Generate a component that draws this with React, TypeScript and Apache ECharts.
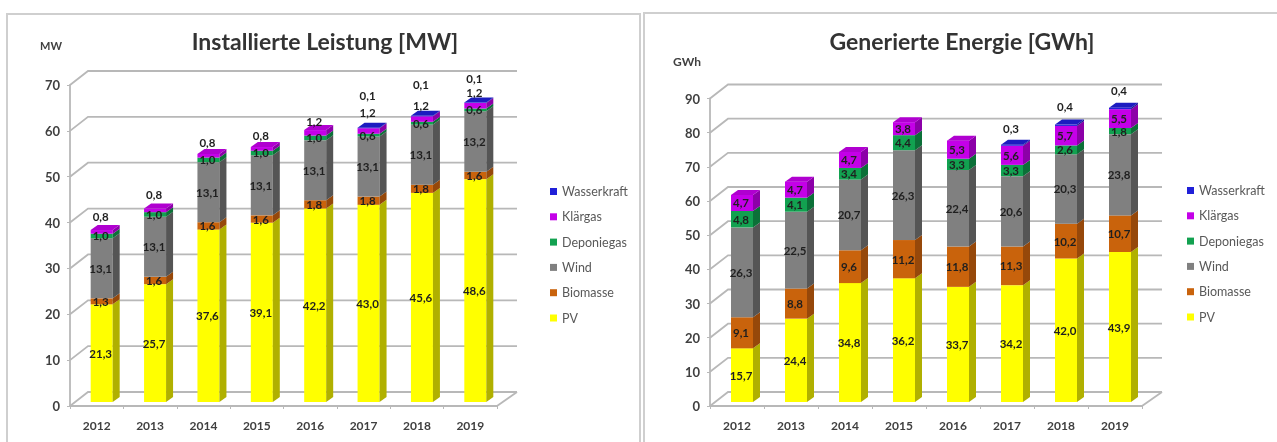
import React, { useEffect, useRef } from "react";
import * as echarts from "echarts";

const years = ["2012", "2013", "2014", "2015", "2016", "2017", "2018", "2019"];
const seriesNames = ["PV", "Biomasse", "Wind", "Deponiegas", "Klärgas", "Wasserkraft"];
const legendOrder = ["Wasserkraft", "Klärgas", "Deponiegas", "Wind", "Biomasse", "PV"];

const mwPV = [21.3, 25.7, 37.6, 39.1, 42.2, 43.0, 45.6, 48.6];
const mwBiomasse = [1.3, 1.6, 1.6, 1.6, 1.8, 1.8, 1.8, 1.6];
const mwWind = [13.1, 13.1, 13.1, 13.1, 13.1, 13.1, 13.1, 13.2];
const mwDeponiegas = [1.0, 1.0, 1.0, 1.0, 1.0, 0.6, 0.6, 0.6];
const mwKlaergas = [0.8, 0.8, 0.8, 0.8, 1.2, 1.2, 1.2, 1.2];
const mwWasserkraft = [null, null, null, null, null, 0.1, 0.1, 0.1];

const gwhPV = [15.7, 24.4, 34.8, 36.2, 33.7, 34.2, 42.0, 43.9];
const gwhBiomasse = [9.1, 8.8, 9.6, 11.2, 11.8, 11.3, 10.2, 10.7];
const gwhWind = [26.3, 22.5, 20.7, 26.3, 22.4, 20.6, 20.3, 23.8];
const gwhDeponiegas = [4.8, 4.1, 3.4, 4.4, 3.3, 3.3, 2.6, 1.8];
const gwhKlaergas = [4.7, 4.7, 4.7, 3.8, 5.3, 5.6, 5.7, 5.5];
const gwhWasserkraft = [null, null, null, null, null, 0.3, 0.4, 0.4];

// how far the hand-placed labels of the thin top segments sit above their segment, in px
const mwKlaergasLift = [15, 16, 13, 13, 11, 18, 14, 13];
const mwWasserkraftLift = [0, 0, 0, 0, 0, 33, 32, 24];
const gwhWasserkraftLift = [0, 0, 0, 0, 0, 17, 19, 18];

const front = ["#ffff00", "#c9630c", "#808080", "#12a150", "#c400e8", "#2020d8"];
const side = ["#b0b000", "#96480a", "#555555", "#0c7038", "#8c00a8", "#151590"];
const topFace = ["#e8e800", "#b85a0c", "#6e6e6e", "#0f8a45", "#b000d0", "#1c1cc0"];

const FONT = "Lato, 'Open Sans', sans-serif";
const BAR_W = 22;
const BAR_SHIFT = 5;
const BAR_RISE = 4;
const DEPTH_X = 7;
const DEPTH_Y = 5;
const WALL_X = 18;
const WALL_Y = 14;

const fmt = (v: number) => v.toFixed(1).replace(".", ",");

function stackRows(layers: (number | null)[][], lifts: Record<number, number[]>) {
  const running = years.map(() => 0);
  const tops = years.map((_, c) => {
    let t = -1;
    layers.forEach((l, i) => { if (l[c] != null) t = i; });
    return t;
  });
  return layers.map((layer, s) => {
    const rows: number[][] = [];
    layer.forEach((v, c) => {
      if (v == null) return;
      const start = running[c];
      running[c] = start + v;
      rows.push([c, start, running[c], v, lifts[s] ? lifts[s][c] : 0, tops[c] === s ? 1 : 0]);
    });
    return rows;
  });
}

function barRenderer(s: number) {
  return (_p: any, api: any) => {
    const c = api.value(0);
    const [cx, yBot0] = api.coord([c, api.value(1)]);
    const [, yTop0] = api.coord([c, api.value(2)]);
    const yBot = yBot0 - BAR_RISE;
    const yTop = yTop0 - BAR_RISE;
    const xL = cx + BAR_SHIFT - BAR_W / 2;
    const xR = xL + BAR_W;
    const children: any[] = [
      { type: "rect", shape: { x: xL, y: yTop, width: BAR_W, height: yBot - yTop }, style: { fill: front[s] } },
      {
        type: "polygon",
        shape: { points: [[xR, yTop], [xR + DEPTH_X, yTop - DEPTH_Y], [xR + DEPTH_X, yBot - DEPTH_Y], [xR, yBot]] },
        style: { fill: side[s] },
      },
    ];
    if (api.value(5)) {
      children.push({
        type: "polygon",
        shape: { points: [[xL, yTop], [xL + DEPTH_X, yTop - DEPTH_Y], [xR + DEPTH_X, yTop - DEPTH_Y], [xR, yTop]] },
        style: { fill: topFace[s] },
      });
    }
    children.push({
      type: "text",
      z2: 50,
      style: {
        x: cx + BAR_SHIFT - 1,
        y: (yTop + yBot) / 2 - api.value(4),
        text: fmt(api.value(3)),
        align: "center",
        verticalAlign: "middle",
        fill: "#1f1f1f",
        font: `bold 11.5px ${FONT}`,
      },
    });
    return { type: "group", children };
  };
}

function wallRenderer(lineColor: string) {
  return (p: any, api: any) => {
    const cs = p.coordSys;
    const [, y] = api.coord([0, api.value(1)]);
    const x0 = cs.x;
    const x1 = cs.x + cs.width;
    const children: any[] = [
      { type: "polyline", shape: { points: [[x0, y], [x0 + WALL_X, y - WALL_Y], [x1 + WALL_X + 2, y - WALL_Y]] }, style: { stroke: lineColor, lineWidth: 1.8, fill: "none" } },
    ];
    if (api.value(1) === 0) {
      children.push({ type: "line", shape: { x1: x1, y1: y, x2: x1 + WALL_X + 2, y2: y - WALL_Y }, style: { stroke: lineColor, lineWidth: 1.8 } });
    }
    return { type: "group", children };
  };
}

function panel(index: number, layers: (number | null)[][], lifts: Record<number, number[]>, ticks: number[]) {
  const rows = stackRows(layers, lifts);
  const wall = {
    type: "custom",
    xAxisIndex: index,
    yAxisIndex: index,
    z: 1,
    silent: true,
    renderItem: wallRenderer("#b8b8b8"),
    encode: { x: 0, y: 1 },
    data: ticks.map((t) => [0, t]),
  };
  const bars = seriesNames.map((name, s) => ({
    type: "custom",
    name,
    xAxisIndex: index,
    yAxisIndex: index,
    z: 3,
    itemStyle: { color: front[s] },
    renderItem: barRenderer(s),
    encode: { x: 0, y: [1, 2] },
    data: rows[s],
  }));
  return [wall, ...bars];
}

const xAxisBase = {
  type: "category",
  data: years,
  axisLine: { lineStyle: { color: "#b8b8b8", width: 1.8 } },
  axisTick: { show: true, length: 3, alignWithLabel: false, lineStyle: { color: "#b8b8b8" } },
  axisLabel: { color: "#404040", fontFamily: FONT, fontWeight: "bold", fontSize: 12, margin: 13 },
  splitLine: { show: false },
};

const yAxisBase = {
  type: "value",
  min: 0,
  interval: 10,
  axisLine: { show: true, lineStyle: { color: "#b8b8b8", width: 1.8 } },
  axisTick: { show: true, length: 3, lineStyle: { color: "#b8b8b8" } },
  axisLabel: { color: "#404040", fontFamily: FONT, fontWeight: "bold", fontSize: 13, margin: 10 },
  splitLine: { show: false },
};

const legendBase = {
  orient: "vertical",
  data: legendOrder,
  icon: "rect",
  itemWidth: 7,
  itemHeight: 7,
  itemGap: 12.3,
  selectedMode: false,
  textStyle: { color: "#595959", fontFamily: FONT, fontSize: 12.5 },
};

export default function App() {
  const ref = useRef<HTMLDivElement>(null);
  useEffect(() => {
    if (!ref.current) return;
    const chart = echarts.init(ref.current, null, { renderer: "svg" });
    const mwLayers = [mwPV, mwBiomasse, mwWind, mwDeponiegas, mwKlaergas, mwWasserkraft];
    const gwhLayers = [gwhPV, gwhBiomasse, gwhWind, gwhDeponiegas, gwhKlaergas, gwhWasserkraft];
    chart.setOption({
      animation: false,
      backgroundColor: "#ffffff",
      title: [
        { text: "Installierte Leistung [MW]", left: 320, top: 24, textAlign: "center", textStyle: { color: "#333333", fontFamily: FONT, fontWeight: "bold", fontSize: 23 } },
        { text: "Generierte Energie [GWh]", left: 957, top: 24, textAlign: "center", textStyle: { color: "#333333", fontFamily: FONT, fontWeight: "bold", fontSize: 23 } },
      ],
      grid: [
        { left: 70, top: 85, width: 427, height: 321 },
        { left: 710, top: 98.5, width: 432, height: 307.5 },
      ],
      xAxis: [{ ...xAxisBase, gridIndex: 0 }, { ...xAxisBase, gridIndex: 1 }],
      yAxis: [
        { ...yAxisBase, gridIndex: 0, max: 70 },
        { ...yAxisBase, gridIndex: 1, max: 90 },
      ],
      legend: [
        { ...legendBase, left: 545, top: 180 },
        { ...legendBase, left: 1182, top: 179 },
      ],
      graphic: [
        { type: "rect", z: -1, shape: { x: 7, y: 14, width: 633, height: 440 }, style: { fill: "#ffffff", stroke: "#cfcfcf", lineWidth: 2 } },
        { type: "rect", z: -1, shape: { x: 644, y: 13, width: 650, height: 440 }, style: { fill: "#ffffff", stroke: "#cfcfcf", lineWidth: 2 } },
        { type: "text", left: 40, top: 40, style: { text: "MW", fill: "#404040", font: `bold 11px ${FONT}` } },
        { type: "text", left: 673, top: 55, style: { text: "GWh", fill: "#404040", font: `bold 12px ${FONT}` } },
      ],
      series: [
        ...panel(0, mwLayers, { 4: mwKlaergasLift, 5: mwWasserkraftLift }, [0, 10, 20, 30, 40, 50, 60, 70]),
        ...panel(1, gwhLayers, { 5: gwhWasserkraftLift }, [0, 10, 20, 30, 40, 50, 60, 70, 80, 90]),
      ],
    });
    return () => chart.dispose();
  }, []);
  return <div ref={ref} style={{ position: "fixed", left: 0, top: 0, width: 1277, height: 442, filter: "blur(0.5px)" }} />;
}
